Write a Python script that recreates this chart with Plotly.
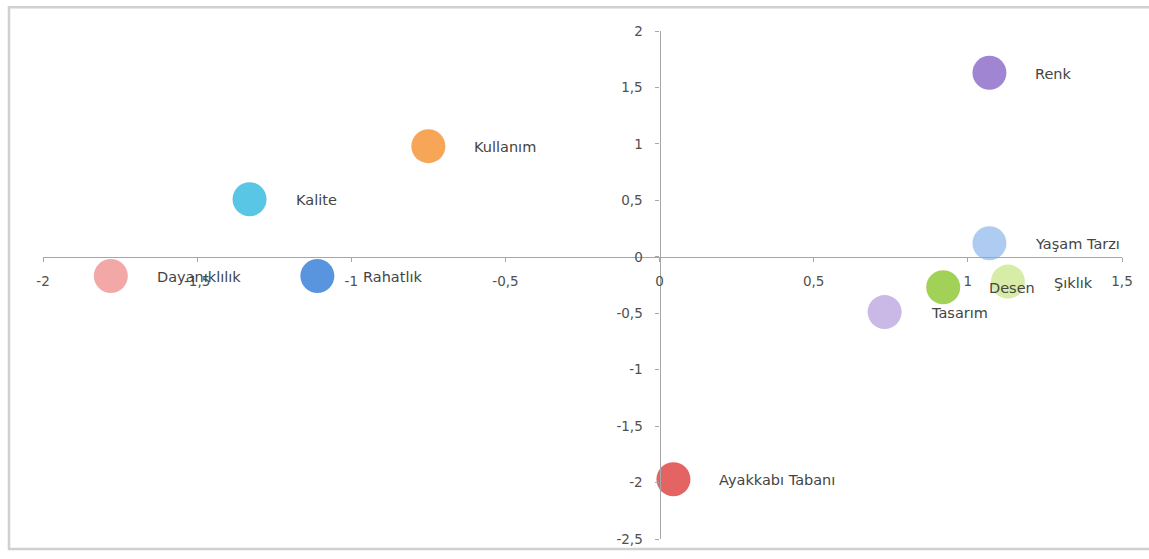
import plotly.graph_objects as go

# ---- data ----
names = ["Renk", "Kullanım", "Kalite", "Dayanıklılık", "Rahatlık",
         "Yaşam Tarzı", "Şıklık", "Desen", "Tasarım", "Ayakkabı Tabanı"]
x_vals = [1.07, -0.75, -1.33, -1.78, -1.11, 1.07, 1.13, 0.92, 0.73, 0.045]
y_vals = [1.63, 0.98, 0.51, -0.17, -0.17, 0.12, -0.22, -0.27, -0.49, -1.97]
colors = ["#9b80d0", "#f7a04e", "#4fc3e3", "#f2a3a3", "#4f8fdc",
          "#aac9f0", "#d5eca2", "#9ccf4e", "#c7b5e6", "#e35c5c"]

x_tickvals = [-2, -1.5, -1, -0.5, 0, 0.5, 1, 1.5]
x_ticktext = ["-2", "-1,5", "-1", "-0,5", "0", "0,5", "1", "1,5"]
y_tickvals = [-2.5, -2, -1.5, -1, -0.5, 0, 0.5, 1, 1.5, 2]
y_ticktext = ["-2,5", "-2", "-1,5", "-1", "-0,5", "0", "0,5", "1", "1,5", "2"]

x_range = [-2, 1.5]
y_range = [-2.5, 2]

fig = go.Figure()
fig.add_trace(go.Scatter(
    x=x_vals, y=y_vals, mode="markers",
    marker=dict(size=34, color=colors, line=dict(width=0),
                opacity=0.95),
    hoverinfo="text", text=names, showlegend=False,
))

for n, xv, yv in zip(names, x_vals, y_vals):
    fig.add_annotation(x=xv, y=yv, text=n, showarrow=False,
                       xanchor="left", xshift=44, yshift=-1,
                       font=dict(family="DejaVu Sans", size=14.5, color="#444444"))

# axes crossing at origin
x_cross = (0 - y_range[0]) / (y_range[1] - y_range[0])
y_cross = (0 - x_range[0]) / (x_range[1] - x_range[0])

axis_font = dict(family="DejaVu Sans", size=13.5, color="#505050")
fig.update_xaxes(range=x_range, tickvals=x_tickvals, ticktext=x_ticktext,
                 showgrid=False, zeroline=False, showline=True,
                 linecolor="#a6a6a6", linewidth=1.3, ticks="outside",
                 ticklen=4, tickcolor="#a6a6a6", anchor="free",
                 position=x_cross, tickfont=axis_font, ticklabelstandoff=8)
fig.update_yaxes(range=y_range, tickvals=y_tickvals, ticktext=y_ticktext,
                 showgrid=False, zeroline=False, showline=True,
                 linecolor="#a6a6a6", linewidth=1.3, ticks="outside",
                 ticklen=4, tickcolor="#a6a6a6", anchor="free",
                 position=y_cross, tickfont=axis_font, ticklabelstandoff=10)

W, H = 1149, 559
ml, mr, mt, mb = 43, 27, 31, 14
pw, ph = W - ml - mr, H - mt - mb
fig.add_shape(type="rect", xref="paper", yref="paper",
              x0=(9 - ml) / pw, x1=(W + 20 - ml) / pw,
              y0=-(mb - 4) / ph, y1=1 + (mt - 7) / ph,
              line=dict(color="#d0d0d0", width=2.5), layer="below")

fig.update_layout(width=W, height=H,
                  margin=dict(l=ml, r=mr, t=mt, b=mb),
                  plot_bgcolor="white", paper_bgcolor="white")

fig.write_html("out.html")
